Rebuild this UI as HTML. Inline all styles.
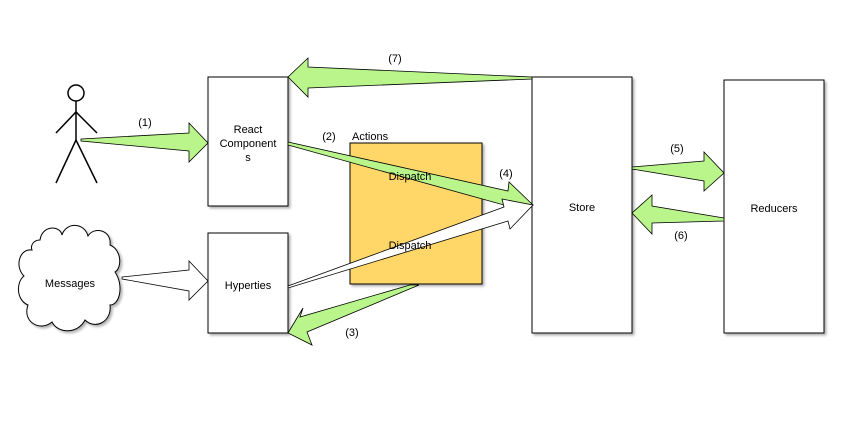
<!DOCTYPE html>
<html><head><meta charset="utf-8"><style>
html,body{margin:0;padding:0;background:#fff;}
svg{display:block;font-family:"Liberation Sans",Arial,sans-serif;font-size:11px;}
</style></head><body>
<svg width="854" height="443" viewBox="0 0 854 443" xmlns="http://www.w3.org/2000/svg">
<defs><filter id="sh" x="-10%" y="-10%" width="130%" height="130%"><feDropShadow dx="2" dy="2" stdDeviation="1.2" flood-color="#000" flood-opacity="0.3"/></filter></defs>
<g stroke="#000" stroke-width="1" fill="#fff">
<rect x="208" y="77" width="80" height="129" filter="url(#sh)"/>
<rect x="208" y="233" width="80" height="100" filter="url(#sh)"/>
<rect x="532" y="77" width="100" height="256" filter="url(#sh)"/>
<rect x="724" y="80" width="100" height="253" filter="url(#sh)"/>
<rect x="350" y="143" width="132" height="141" fill="#ffd767" filter="url(#sh)"/>
</g>
<!-- person -->
<g stroke="#000" stroke-width="1.5" fill="none">
<circle cx="76" cy="93" r="8" fill="#fff"/>
<line x1="76" y1="101" x2="76" y2="140"/>
<polyline points="56,133 76,112 97,133"/>
<polyline points="56,183 76,140 97,183"/>
</g>
<!-- cloud -->
<path d="M40,240 C42,225 60,225 62,235 C66,222 84,222 88,236 C94,226 112,230 110,245 C122,250 122,268 115,272 C124,285 120,305 110,305 C112,322 95,330 85,320 C78,334 58,334 52,322 C40,332 22,322 28,305 C16,300 16,282 24,276 C14,266 20,248 32,250 C30,245 34,240 40,240 Z" fill="#fff" stroke="#000" stroke-width="1" filter="url(#sh)"/>
<g stroke="#000" stroke-width="0.8" stroke-linejoin="miter">
<polygon fill="#fff" points="122,277 189,270 189,261 208,281 189,300 189,291 122,279"/>
<polygon fill="#b9f58b" points="81,139 189,133 189,123 208,143 189,162 189,151 81,141"/>
<polygon fill="#b9f58b" points="532,77 308,67 308,58 288,77 308,97 308,88 532,79"/>
<polygon fill="#b9f58b" points="419,285 307,332 312,345 288,333 303,308 300,317 410,285"/>
<polygon fill="#b9f58b" points="632,167 704,161 704,152 724,173 704,191 704,181 632,169"/>
<polygon fill="#b9f58b" points="724,218 652,206 652,195 632,213 652,234 652,223 724,221"/>
<polygon fill="#b9f58b" points="288,142 508,191 509,182 533,205 503,212 504,205 288,145"/>
<polygon fill="#fff" points="288,286 504,207 502,199 533,205 510,229 508,221 288,288"/>
</g>
<g fill="#000">
<text x="145" y="126" text-anchor="middle">(1)</text>
<text x="395" y="62" text-anchor="middle">(7)</text>
<text x="329" y="140" text-anchor="middle">(2)</text>
<text x="352" y="140">Actions</text>
<text x="410" y="180" text-anchor="middle">Dispatch</text>
<text x="410" y="249" text-anchor="middle">Dispatch</text>
<text x="506" y="177" text-anchor="middle">(4)</text>
<text x="677" y="152" text-anchor="middle">(5)</text>
<text x="681" y="239" text-anchor="middle">(6)</text>
<text x="352" y="336" text-anchor="middle">(3)</text>
<text x="248" y="133" text-anchor="middle">React</text>
<text x="248" y="147" text-anchor="middle">Component</text>
<text x="248" y="161" text-anchor="middle">s</text>
<text x="248" y="289" text-anchor="middle">Hyperties</text>
<text x="70" y="287" text-anchor="middle">Messages</text>
<text x="582" y="211" text-anchor="middle">Store</text>
<text x="774" y="212" text-anchor="middle">Reducers</text>
</g>
</svg>
</body></html>
